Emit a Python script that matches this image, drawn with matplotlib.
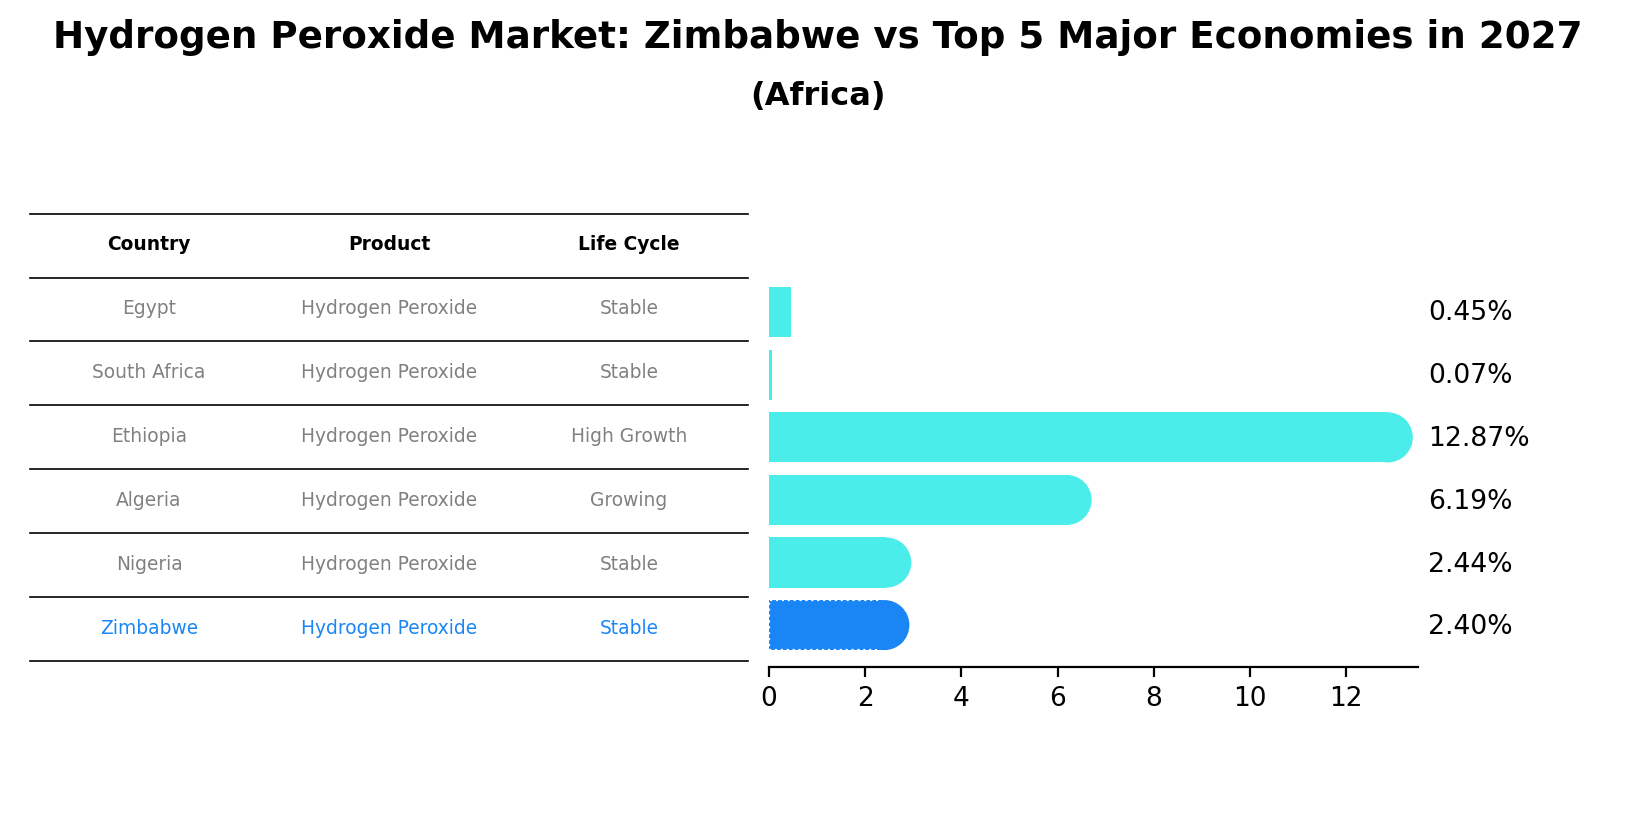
import matplotlib
matplotlib.use("Agg")
import matplotlib.pyplot as plt
from matplotlib.patches import Ellipse

countries = ["Egypt", "South Africa", "Ethiopia", "Algeria", "Nigeria", "Zimbabwe"]
products = ["Hydrogen Peroxide"] * 6
life_cycle = ["Stable", "Stable", "High Growth", "Growing", "Stable", "Stable"]
values = [0.45, 0.07, 12.87, 6.19, 2.44, 2.40]
xticks = [0, 2, 4, 6, 8, 10, 12]

W, H = 1635, 823
fig = plt.figure(figsize=(W/200, H/200), dpi=200)
fx = lambda px: px / W
fy = lambda py: 1 - py / H

fig.text(0.5, fy(37), "Hydrogen Peroxide Market: Zimbabwe vs Top 5 Major Economies in 2027",
         ha="center", va="center", fontsize=13.4, fontweight="bold")
fig.text(0.5, fy(96), "(Africa)", ha="center", va="center", fontsize=11.5, fontweight="bold")

ax = fig.add_axes([fx(769), fy(667), fx(1418) - fx(769), (667 - 281) / H])
n = len(values)
ys = list(range(n - 1, -1, -1))
cyan, blue = "#4BEDEA", "#1A86F5"
pxunit = (1346 - 769) / 12
for i, (v, y) in enumerate(zip(values, ys)):
    col = blue if countries[i] == "Zimbabwe" else cyan
    ec = "white" if countries[i] == "Zimbabwe" else "none"
    ls = ":" if countries[i] == "Zimbabwe" else "-"
    ax.barh(y, v, height=0.8, color=col, edgecolor=ec, linestyle=ls, linewidth=0.8)
    if v > 1:
        ax.add_patch(Ellipse((v, y), 50 / pxunit, 0.8, color=col, lw=0))
    fig.text(fx(1428), fy(313 + 62.9 * i), f"{v:.2f}%", ha="left", va="center", fontsize=9.6)
ax.set_xlim(0, (1418 - 769) / pxunit)
ax.set_ylim(-0.67, n - 0.5)
ax.set_xticks(xticks)
ax.set_yticks([])
for s in ["top", "right", "left"]:
    ax.spines[s].set_visible(False)
ax.spines["bottom"].set_linewidth(0.8)
ax.tick_params(axis="x", labelsize=9.5, width=0.8)

# table
lines_y = [214, 278, 341, 405, 469, 533, 597, 661]
for ly in lines_y:
    fig.add_artist(plt.Line2D([fx(30), fx(748)], [fy(ly), fy(ly)], color="black", lw=0.6))
colx = [149, 389, 629]
for x, h in zip(colx, ["Country", "Product", "Life Cycle"]):
    fig.text(fx(x), fy(245), h, ha="center", va="center", fontsize=6.7, fontweight="bold")
for i in range(n):
    col = blue if countries[i] == "Zimbabwe" else "gray"
    yy = fy(309 + 63.8 * i)
    for x, t in zip(colx, [countries[i], products[i], life_cycle[i]]):
        fig.text(fx(x), yy, t, ha="center", va="center", fontsize=6.7, color=col)

fig.savefig("out.png", dpi=200)
